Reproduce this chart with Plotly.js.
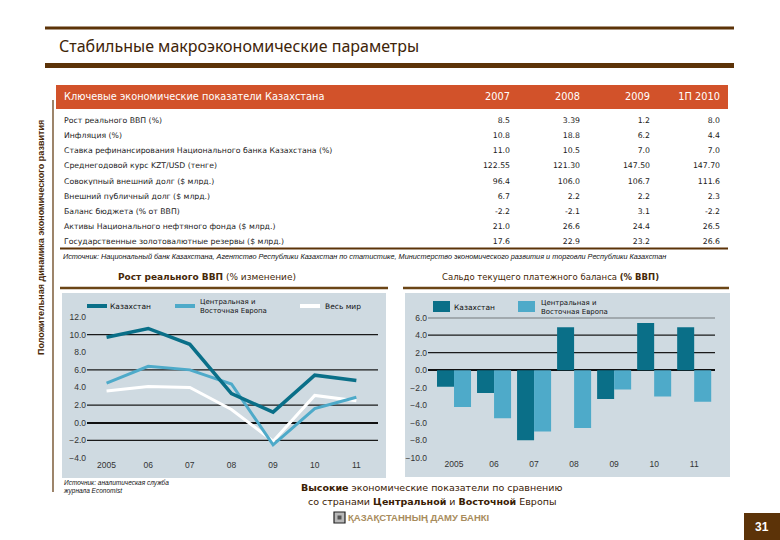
<!DOCTYPE html>
<html>
<head>
<meta charset="utf-8">
<script src="https://cdn.plot.ly/plotly-3.0.1.min.js"></script>
<style>html,body{margin:0;padding:0;background:#fff;}#chart{width:780px;height:540px;}</style>
</head>
<body>
<div id="chart"></div>
<script>
// ---------- DATA ----------
const tableHeader = ['Ключевые экономические показатели Казахстана', '2007', '2008', '2009', '1П 2010'];
const indicators = [
  'Рост реального ВВП (%)',
  'Инфляция (%)',
  'Ставка рефинансирования Национального банка Казахстана (%)',
  'Среднегодовой курс KZT/USD (тенге)',
  'Совокупный внешний долг ($ млрд.)',
  'Внешний публичный долг ($ млрд.)',
  'Баланс бюджета (% от ВВП)',
  'Активы Национального нефтяного фонда ($ млрд.)',
  'Государственные золотовалютные резервы ($ млрд.)'
];
const val2007 = ['8.5', '10.8', '11.0', '122.55', '96.4', '6.7', '-2.2', '21.0', '17.6'];
const val2008 = ['3.39', '18.8', '10.5', '121.30', '106.0', '2.2', '-2.1', '26.6', '22.9'];
const val2009 = ['1.2', '6.2', '7.0', '147.50', '106.7', '2.2', '3.1', '24.4', '23.2'];
const val2010 = ['8.0', '4.4', '7.0', '147.70', '111.6', '2.3', '-2.2', '26.5', '26.6'];

const years = ['2005', '06', '07', '08', '09', '10', '11'];
const seriesNames = ['Казахстан', 'Центральная и<br>Восточная Европа', 'Весь мир'];
const gdpKZ = [9.7, 10.7, 8.9, 3.3, 1.2, 5.4, 4.8];
const gdpCEE = [4.5, 6.4, 6.0, 4.4, -2.5, 1.6, 2.9];
const gdpWorld = [3.6, 4.1, 4.0, 1.5, -2.1, 3.1, 2.5];

const caKZ = [-1.9, -2.6, -8.0, 4.9, -3.3, 5.4, 4.9];
const caCEE = [-4.2, -5.5, -7.0, -6.6, -2.2, -3.0, -3.6];

const lineTicks = [-4, -2, 0, 2, 4, 6, 8, 10, 12];
const lineGrid = [10, 6, 2, -2];
const barTicks = [-10, -8, -6, -4, -2, 0, 2, 4, 6];
const barGrid = [6, 4, 2];

// ---------- STYLE ----------
const W = 780, H = 540;
const px = x => x / W;
const py = y => 1 - y / H;
const BROWN = '#5c3308';
const TXT = '#452808';
const BG = '#cfdae1';
const KZC = '#0a6f88';
const CEEC = '#4eaac9';
const FONT = 'DejaVu Sans, sans-serif';
const NFONT = 'Liberation Sans, Arial, sans-serif';

const traces = [
  {
    type: 'table',
    domain: {x: [px(56), px(728)], y: [py(252), py(85)]},
    columnwidth: [392, 70, 70, 70, 70],
    header: {
      values: tableHeader,
      align: ['left', 'right', 'right', 'right', 'right'],
      fill: {color: '#d2522a'},
      line: {color: '#d2522a', width: 0},
      font: {color: '#ffffff', size: 9.8, family: FONT},
      height: 24
    },
    cells: {
      values: [indicators, val2007, val2008, val2009, val2010],
      align: ['left', 'right', 'right', 'right', 'right'],
      fill: {color: '#ffffff'},
      line: {color: '#ffffff', width: 0},
      font: {color: '#222222', size: 7.75, family: FONT},
      height: 15.2
    }
  },
  {type: 'scatter', mode: 'lines', x: years, y: gdpWorld, name: seriesNames[2], xaxis: 'x', yaxis: 'y',
   line: {color: '#ffffff', width: 3}, hoverinfo: 'skip'},
  {type: 'scatter', mode: 'lines', x: years, y: gdpCEE, name: seriesNames[1], xaxis: 'x', yaxis: 'y',
   line: {color: CEEC, width: 3}, hoverinfo: 'skip'},
  {type: 'scatter', mode: 'lines', x: years, y: gdpKZ, name: seriesNames[0], xaxis: 'x', yaxis: 'y',
   line: {color: KZC, width: 3.5}, hoverinfo: 'skip'},
  {type: 'bar', x: years, y: caKZ, name: seriesNames[0], xaxis: 'x2', yaxis: 'y2',
   marker: {color: KZC}, hoverinfo: 'skip'},
  {type: 'bar', x: years, y: caCEE, name: seriesNames[1], xaxis: 'x2', yaxis: 'y2',
   marker: {color: CEEC}, hoverinfo: 'skip'}
];

const tickFont = {family: NFONT, size: 8.5, color: '#333333'};

const shapes = [
  // top rule and title rule
  {type: 'line', xref: 'paper', yref: 'paper', x0: px(45), x1: px(734), y0: py(28), y1: py(28), line: {color: BROWN, width: 3}},
  {type: 'line', xref: 'paper', yref: 'paper', x0: px(45), x1: px(734), y0: py(65.5), y1: py(65.5), line: {color: BROWN, width: 5}},
  // left vertical rule
  {type: 'line', xref: 'paper', yref: 'paper', x0: px(53), x1: px(53), y0: py(100), y1: py(492), line: {color: BROWN, width: 1.2}},
  // table bottom rule
  {type: 'line', xref: 'paper', yref: 'paper', x0: px(60), x1: px(728), y0: py(248.5), y1: py(248.5), line: {color: BROWN, width: 2}},
  // chart title rules
  {type: 'line', xref: 'paper', yref: 'paper', x0: px(60), x1: px(388), y0: py(288), y1: py(288), line: {color: '#6b4516', width: 2.5}},
  {type: 'line', xref: 'paper', yref: 'paper', x0: px(403), x1: px(729), y0: py(288), y1: py(288), line: {color: '#6b4516', width: 2.5}},
  // chart backgrounds
  {type: 'rect', xref: 'paper', yref: 'paper', layer: 'below', x0: px(62), x1: px(386), y0: py(478), y1: py(293), fillcolor: BG, line: {width: 0}},
  {type: 'rect', xref: 'paper', yref: 'paper', layer: 'below', x0: px(405), x1: px(730), y0: py(477), y1: py(293), fillcolor: BG, line: {width: 0}},
  // page number box
  {type: 'rect', xref: 'paper', yref: 'paper', x0: px(744), x1: px(780), y0: py(540), y1: py(513), fillcolor: BROWN, line: {width: 0}},
  // logo icon
  {type: 'rect', xref: 'paper', yref: 'paper', x0: px(334), x1: px(345), y0: py(523), y1: py(512), fillcolor: '#b9b9b9', line: {color: '#222', width: 1.2}},
  {type: 'rect', xref: 'paper', yref: 'paper', x0: px(337.5), x1: px(341.5), y0: py(519.5), y1: py(515.5), fillcolor: '#555', line: {width: 0}},
  // line legend samples
  {type: 'line', xref: 'paper', yref: 'paper', x0: px(87), x1: px(107), y0: py(306), y1: py(306), line: {color: KZC, width: 4}},
  {type: 'line', xref: 'paper', yref: 'paper', x0: px(175), x1: px(195), y0: py(306), y1: py(306), line: {color: CEEC, width: 4}},
  {type: 'line', xref: 'paper', yref: 'paper', x0: px(300), x1: px(320), y0: py(306), y1: py(306), line: {color: '#ffffff', width: 4}},
  // bar legend boxes
  {type: 'rect', xref: 'paper', yref: 'paper', x0: px(433), x1: px(450), y0: py(312), y1: py(301), fillcolor: KZC, line: {width: 0}},
  {type: 'rect', xref: 'paper', yref: 'paper', x0: px(518), x1: px(535), y0: py(312), y1: py(301), fillcolor: CEEC, line: {width: 0}}
];
lineGrid.forEach(v => shapes.push({type: 'line', xref: 'x domain', yref: 'y', x0: 0, x1: 1, y0: v, y1: v, layer: 'below', line: {color: '#1a1a1a', width: 1.2}}));
barGrid.forEach(v => shapes.push({type: 'line', xref: 'x2 domain', yref: 'y2', x0: 0, x1: 1, y0: v, y1: v, layer: 'below', line: {color: '#1a1a1a', width: 1.2}}));

const ann = (text, x, y, opts) => Object.assign({text: text, x: px(x), y: py(y), xref: 'paper', yref: 'paper', showarrow: false,
  xanchor: 'left', yanchor: 'middle', align: 'left', font: {family: FONT, size: 9, color: TXT}}, opts || {});

const annotations = [
  ann('Стабильные макроэкономические параметры', 57, 46, {font: {family: 'Noto Sans, sans-serif', size: 16, color: '#3e2408'}}),
  ann('<b>Положительная динамика экономического развития</b>', 41, 238, {xanchor: 'center', align: 'center', textangle: -90, font: {family: NFONT, size: 9, color: '#4a2a08'}}),
  ann('<i>Источник: Национальный банк Казахстана, Агентство Республики Казахстан по статистике, Министерство экономического развития и торговли Республики Казахстан</i>', 61, 256,
      {font: {family: NFONT, size: 7.3, color: '#111'}}),
  ann('<b>Рост реального ВВП</b> (% изменение)', 207, 277, {xanchor: 'center', align: 'center', font: {family: FONT, size: 9, color: TXT}}),
  ann('Сальдо текущего платежного баланса <b>(% ВВП)</b>', 550, 277, {xanchor: 'center', align: 'center', font: {family: FONT, size: 8.5, color: TXT}}),
  // line legend texts
  ann(seriesNames[0], 108, 306, {font: {family: FONT, size: 7.5, color: '#111'}}),
  ann(seriesNames[1], 198, 306, {font: {family: FONT, size: 7, color: '#111'}}),
  ann(seriesNames[2], 323, 306, {font: {family: FONT, size: 7.5, color: '#111'}}),
  // bar legend texts
  ann(seriesNames[0], 452, 307, {font: {family: FONT, size: 7.5, color: '#111'}}),
  ann(seriesNames[1], 539, 307, {font: {family: FONT, size: 7, color: '#111'}}),
  // bottom source
  ann('<i>Источник: аналитическая служба<br>журнала Economist</i>', 61, 487, {font: {family: NFONT, size: 6.5, color: '#111'}}),
  // bottom message
  ann('<b>Высокие</b> экономические показатели по сравнению', 431, 487, {xanchor: 'center', align: 'center', font: {family: FONT, size: 9.5, color: '#3a2004'}}),
  ann('со странами <b>Центральной</b> и <b>Восточной</b> Европы', 432, 501, {xanchor: 'center', align: 'center', font: {family: FONT, size: 9.5, color: '#3a2004'}}),
  ann('<b>ҚАЗАҚСТАННЫҢ ДАМУ БАНКІ</b>', 346, 517.5, {font: {family: NFONT, size: 9.5, color: '#a88c5c'}}),
  ann('<b>31</b>', 762, 527, {xanchor: 'center', align: 'center', font: {family: NFONT, size: 12, color: '#ffffff'}})
];

const layout = {
  width: W, height: H,
  margin: {l: 0, r: 0, t: 0, b: 0},
  paper_bgcolor: '#ffffff',
  plot_bgcolor: 'rgba(0,0,0,0)',
  showlegend: false,
  barmode: 'group',
  bargap: 0.15,
  bargroupgap: 0,
  xaxis: {domain: [px(87), px(378)], anchor: 'y', type: 'category', range: [-0.47, 6.52],
          showgrid: false, zeroline: false, showline: false, ticks: '', tickfont: tickFont, fixedrange: true},
  yaxis: {domain: [py(458), py(317)], anchor: 'x', range: [-4, 12], tickvals: lineTicks, tickformat: '.1f',
          showgrid: false, zeroline: true, zerolinecolor: '#111111', zerolinewidth: 2, showline: false, ticks: '',
          tickfont: tickFont, fixedrange: true},
  xaxis2: {domain: [px(428), px(715)], anchor: 'y2', type: 'category', range: [-0.65, 6.52],
           showgrid: false, zeroline: false, showline: false, ticks: '', tickfont: tickFont, fixedrange: true},
  yaxis2: {domain: [py(457.7), py(317.7)], anchor: 'x2', range: [-10, 6], tickvals: barTicks, tickformat: '.1f',
           showgrid: false, zeroline: true, zerolinecolor: '#111111', zerolinewidth: 2, showline: false, ticks: '',
           tickfont: tickFont, fixedrange: true},
  shapes: shapes,
  annotations: annotations
};

Plotly.newPlot('chart', traces, layout, {displayModeBar: false, staticPlot: true});
</script>
</body>
</html>
